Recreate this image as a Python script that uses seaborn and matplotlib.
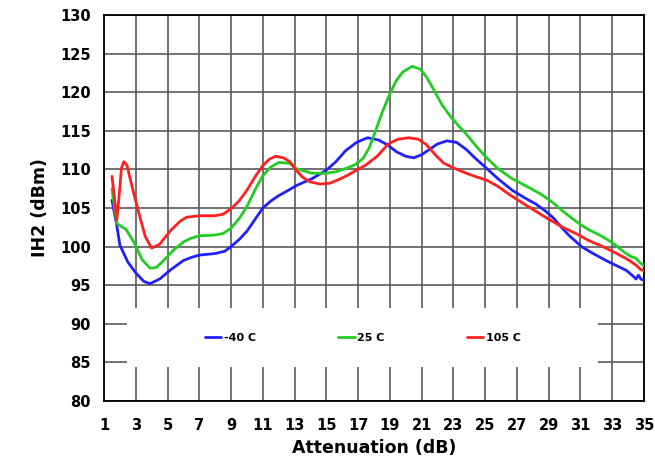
import numpy as np
import pandas as pd
import matplotlib
matplotlib.use("Agg")
import matplotlib.pyplot as plt
from matplotlib.patches import Rectangle
from matplotlib.ticker import MultipleLocator
import seaborn as sns

# ---- data ----
blue_x = [1.5, 1.8, 2.0, 2.5, 3.0, 3.5, 3.9, 4.5, 5.2, 6.0, 6.5, 7.0, 8.0, 8.6, 9.0,
          9.5, 10.0, 10.5, 11.0, 11.5, 12.0, 12.7, 13.1, 14.1, 15.0, 15.6, 16.2, 16.9,
          17.6, 18.3, 18.9, 19.4, 20.0, 20.5, 21.0, 21.5, 22.0, 22.6, 23.2, 23.8, 24.4,
          25.0, 25.8, 26.7, 27.5, 28.2, 28.8, 29.3, 29.8, 30.3, 31.1, 31.8, 32.6, 33.2,
          33.9, 34.3, 34.5, 34.65, 34.8, 35.0]
blue_y = [106.0, 102.8, 100.2, 98.0, 96.6, 95.5, 95.2, 95.8, 97.0, 98.2, 98.6, 98.9, 99.1,
          99.4, 100.0, 100.9, 102.0, 103.5, 105.0, 105.9, 106.6, 107.4, 107.9, 108.8, 109.9,
          111.0, 112.4, 113.5, 114.1, 113.8, 113.1, 112.3, 111.7, 111.5, 111.9, 112.6, 113.3,
          113.7, 113.5, 112.6, 111.4, 110.3, 108.8, 107.3, 106.3, 105.5, 104.6, 103.7, 102.5,
          101.4, 99.95, 99.1, 98.2, 97.6, 96.9, 96.2, 95.8, 96.3, 95.8, 95.6]

green_x = [1.5, 1.8, 2.4, 2.9, 3.4, 3.9, 4.3, 4.8, 5.4, 6.0, 6.5, 7.0, 8.0, 8.5, 9.0, 9.5,
           10.0, 10.5, 11.0, 11.5, 12.0, 12.7, 13.1, 14.1, 15.0, 15.6, 16.2, 16.8, 17.3,
           17.7, 18.1, 18.5, 19.0, 19.4, 19.8, 20.4, 20.9, 21.3, 21.9, 22.3, 22.8, 23.3,
           23.8, 24.4, 25.0, 25.8, 26.7, 27.8, 28.5, 29.2, 30.0, 30.9, 31.5, 32.2, 32.7,
           33.2, 33.8, 34.2, 34.5, 34.7, 35.0]
green_y = [107.5, 103.0, 102.2, 100.5, 98.3, 97.2, 97.3, 98.3, 99.6, 100.6, 101.1, 101.4,
           101.5, 101.7, 102.4, 103.6, 105.2, 107.3, 109.2, 110.3, 110.9, 110.8, 110.1, 109.5,
           109.5, 109.7, 110.1, 110.6, 111.4, 112.8, 115.0, 117.3, 119.8, 121.5, 122.6, 123.35,
           123.0, 122.0, 119.8, 118.3, 116.9, 115.7, 114.6, 113.1, 111.7, 110.1, 108.8, 107.6,
           106.8, 105.8, 104.4, 103.0, 102.2, 101.5, 100.9, 100.2, 99.2, 98.7, 98.5, 98.0, 97.5]

red_x = [1.5, 1.65, 1.8, 1.95, 2.1, 2.25, 2.45, 2.8, 3.2, 3.6, 4.0, 4.5, 5.2, 5.8, 6.2, 7.0,
         8.0, 8.5, 9.0, 9.5, 10.0, 10.5, 11.0, 11.4, 11.8, 12.3, 12.7, 13.1, 13.5, 13.95,
         14.6, 15.2, 15.8, 16.3, 16.9, 17.5, 18.2, 18.9, 19.5, 20.2, 20.8, 21.3, 21.9, 22.4,
         23.0, 23.8, 24.5, 25.1, 25.8, 26.7, 27.7, 28.8, 29.8, 30.9, 31.5, 32.2, 33.2, 34.0,
         34.5, 34.8, 35.0]
red_y = [109.1, 106.5, 103.4, 106.5, 110.2, 111.0, 110.5, 107.5, 104.3, 101.3, 99.8, 100.3,
         102.1, 103.3, 103.8, 104.0, 104.0, 104.2, 104.9, 105.9, 107.3, 109.0, 110.5, 111.3,
         111.7, 111.5, 111.0, 109.9, 109.0, 108.4, 108.1, 108.2, 108.7, 109.2, 109.9, 110.6,
         111.7, 113.3, 113.9, 114.1, 113.9, 113.2, 111.8, 110.8, 110.2, 109.5, 109.0, 108.6,
         107.8, 106.5, 105.2, 103.8, 102.6, 101.5, 100.8, 100.2, 99.2, 98.3, 97.6, 97.0, 96.9]

series_names = ["-40 C", "25 C", "105 C"]
series_colors = ["#2020ff", "#22cc22", "#ff2020"]

x_ticks = list(range(1, 36, 2))
y_ticks = list(range(80, 131, 5))

# ---- build long table ----
frames = []
for name, xs, ys in zip(series_names, [blue_x, green_x, red_x], [blue_y, green_y, red_y]):
    frames.append(pd.DataFrame({"x": xs, "y": ys, "series": name}))
df = pd.concat(frames, ignore_index=True)

sns.set_style("white")
plt.rcParams["font.family"] = ["DejaVu Sans"]
plt.rcParams["font.weight"] = "bold"
plt.rcParams["text.color"] = "black"
plt.rcParams["axes.labelcolor"] = "black"
plt.rcParams["xtick.color"] = "black"
plt.rcParams["ytick.color"] = "black"

fig = plt.figure(figsize=(6.55, 4.59), dpi=100)
ax = fig.add_axes([104 / 655, 1 - 401 / 459, 540 / 655, 386 / 459])

sns.lineplot(data=df, x="x", y="y", hue="series", hue_order=series_names,
             palette=dict(zip(series_names, series_colors)), estimator=None,
             sort=False, linewidth=2.0, ax=ax, zorder=3)
for ln in ax.get_lines():
    ln.set_solid_joinstyle("round")
    ln.set_solid_capstyle("round")

ax.set_xlim(1, 35)
ax.set_ylim(80, 130)
ax.set_xticks(x_ticks)
ax.set_yticks(y_ticks)
ax.xaxis.set_minor_locator(MultipleLocator(1 / 3))
ax.yaxis.set_minor_locator(MultipleLocator(1))

ax.set_axisbelow(True)
ax.grid(True, which="major", color="#5a5a5a", linewidth=1.2)

for s in ax.spines.values():
    s.set_color("black")
    s.set_linewidth(1.3)
    s.set_visible(True)

ax.tick_params(axis="both", which="major", direction="inout", length=7, width=1.2,
               color="black", labelcolor="black", labelsize=10.5, pad=6)
ax.tick_params(axis="both", which="minor", direction="in", length=3, width=1.0,
               color="black")
ax.tick_params(axis="x", which="major", pad=9)
for lab in ax.get_xticklabels() + ax.get_yticklabels():
    lab.set_fontweight("bold")

ax.set_xlabel("Attenuation (dB)", fontsize=12.5, fontweight="bold", labelpad=4, color="black")
ax.set_ylabel("IH2 (dBm)", fontsize=12.5, fontweight="bold", labelpad=8, color="black")

# white legend area covering the grid
ax.add_patch(Rectangle(((127 - 104) / 540, (401 - 367) / 386), 471 / 540, 59 / 386,
                       transform=ax.transAxes, facecolor="white", edgecolor="none",
                       zorder=1.5))

handles, labels = ax.get_legend_handles_labels()
leg = ax.legend(handles, labels, ncol=3, frameon=False, loc="center",
                bbox_to_anchor=((363 - 104) / 540, (401 - 338) / 386),
                prop={"size": 8, "weight": "bold"}, handlelength=1.45,
                handletextpad=0.25, columnspacing=7.4, labelcolor="black")
leg.set_zorder(4)

fig.savefig("out.png", dpi=100)
